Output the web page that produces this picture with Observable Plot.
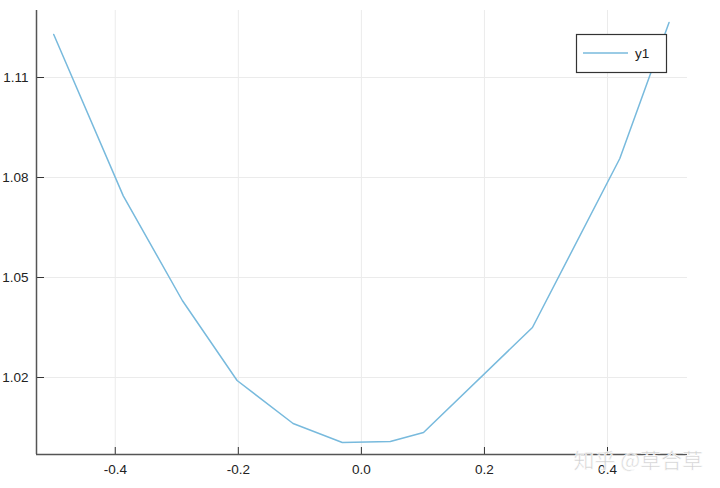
<!DOCTYPE html>
<html><head><meta charset="utf-8">
<script src="https://cdn.jsdelivr.net/npm/d3@7"></script>
<script src="https://cdn.jsdelivr.net/npm/@observablehq/plot@0.6"></script>
<style>body{margin:0;background:#fff}</style>
</head><body><div id="chart"></div>
<script>
const xValues = [-0.5, -0.387, -0.291, -0.202, -0.111, -0.031, 0.047, 0.101, 0.278, 0.42, 0.5];
const yValues = [1.1229, 1.0745, 1.0431, 1.0191, 1.0062, 1.0005, 1.0008, 1.0035, 1.0350, 1.0857, 1.1265];
const seriesName = "y1";
const xTicks = [-0.4, -0.2, 0, 0.2, 0.4];
const yTicks = [1.02, 1.05, 1.08, 1.11];
const watermark = "知乎 @草合草";

const data = xValues.map((x, i) => ({x, y: yValues[i]}));
const xDomain = [-0.528, 0.530];
const yDomain = [0.9969, 1.1301];
const lineColor = "#78badd";

const chart = Plot.plot({
  width: 720, height: 488,
  marginLeft: 36, marginRight: 33, marginTop: 10, marginBottom: 34,
  style: {fontFamily: "'Liberation Sans', Arial, sans-serif", fontSize: "13.5px", color: "#222", background: "#fff"},
  x: {domain: xDomain},
  y: {domain: yDomain},
  marks: [
    Plot.gridX(xTicks, {stroke: "#ebebeb", strokeOpacity: 1}),
    Plot.gridY(yTicks, {stroke: "#ebebeb", strokeOpacity: 1}),
    Plot.line(data, {x: "x", y: "y", stroke: lineColor, strokeWidth: 1.5}),
    Plot.axisX(xTicks, {tickSize: -7, tickPadding: 17, tickFormat: d => d.toFixed(1), label: null, stroke: "#333"}),
    Plot.axisY(yTicks, {tickSize: -8, tickPadding: 16, tickFormat: d => d.toFixed(2), label: null, stroke: "#333"}),
    Plot.ruleX([xDomain[0]], {stroke: "#555", strokeWidth: 1.5}),
    Plot.ruleY([yDomain[0]], {stroke: "#555", strokeWidth: 1.5})
  ]
});
document.getElementById("chart").append(chart);

const svg = d3.select(chart);
const lg = svg.append("g");
lg.append("rect").attr("x", 576.5).attr("y", 34.5).attr("width", 90).attr("height", 38)
  .attr("fill", "#fff").attr("stroke", "#333").attr("stroke-width", 1.2);
lg.append("line").attr("x1", 583).attr("x2", 628).attr("y1", 53).attr("y2", 53)
  .attr("stroke", lineColor).attr("stroke-width", 1.5);
lg.append("text").attr("x", 635).attr("y", 58).attr("text-anchor", "start").text(seriesName)
  .attr("font-size", 13.5).attr("fill", "#222").attr("font-family", "'Liberation Sans', Arial, sans-serif");

svg.append("text").attr("x", 703).attr("y", 468).attr("text-anchor", "end")
  .attr("font-family", "'Noto Sans CJK SC', sans-serif").attr("font-size", 21)
  .attr("fill", "#cfcfcf").attr("stroke", "#fff").attr("stroke-width", 0.6)
  .text(watermark);
</script>
</body></html>
